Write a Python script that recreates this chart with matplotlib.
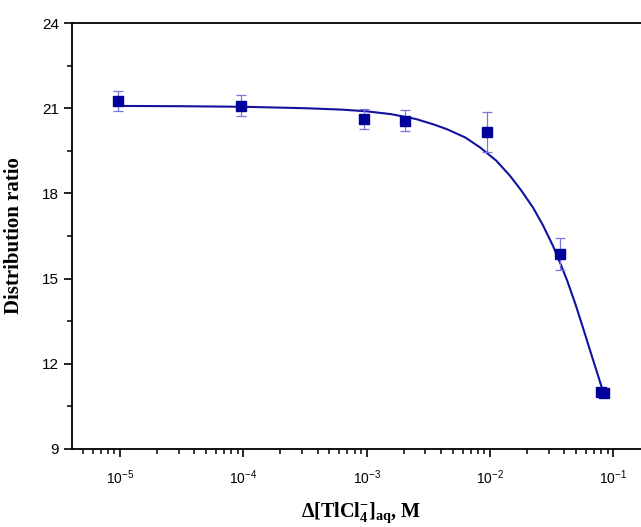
import numpy as np
import matplotlib
matplotlib.use("Agg")
import matplotlib.pyplot as plt
from matplotlib.ticker import LogLocator, MultipleLocator, LogFormatterSciNotation

plt.rcParams['font.family'] = ['Liberation Sans', 'DejaVu Sans']
plt.rcParams['mathtext.fontset'] = 'custom'
plt.rcParams['mathtext.rm'] = 'Liberation Sans'
plt.rcParams['mathtext.bf'] = 'Liberation Serif:bold'
plt.rcParams['axes.unicode_minus'] = False

# measured points
conc = [9.6e-6, 9.6e-5, 9.5e-4, 2.03e-3, 9.5e-3, 0.037, 0.079, 0.084]
ratio = [21.25, 21.08, 20.62, 20.56, 20.17, 15.87, 11.0, 10.98]
ratio_err = [0.35, 0.37, 0.35, 0.36, 0.71, 0.57, 0.05, 0.05]

# fitted curve (log10 of concentration)
fit_logc = [-5.016, -4.5, -4.0, -3.5, -3.2, -3.0, -2.8, -2.6, -2.45, -2.348,
            -2.2, -2.08, -1.95, -1.837, -1.75, -1.65, -1.57, -1.488, -1.43,
            -1.375, -1.31, -1.245, -1.17, -1.091]
fit_ratio = [21.08, 21.07, 21.05, 21.0, 20.95, 20.89, 20.79, 20.62, 20.42, 20.26,
             19.97, 19.62, 19.16, 18.62, 18.13, 17.50, 16.88, 16.15, 15.55,
             14.95, 14.15, 13.27, 12.23, 11.15]

W, H = 641, 527
fig = plt.figure(figsize=(W / 100, H / 100), dpi=100)
ax = fig.add_axes([72 / W, 1 - 449 / H, (700 - 72) / W, (449 - 23) / H])

ax.plot(10 ** np.array(fit_logc), fit_ratio, color='#1212a0', lw=1.5,
        zorder=2, solid_joinstyle='round')
ax.errorbar(conc, ratio, yerr=ratio_err, fmt='none', ecolor='#7878dc',
            elinewidth=0.9, capsize=3.5, capthick=0.9, zorder=3)
ax.plot(conc, ratio, 's', color='#00009a', ms=6.5, zorder=4)

ax.set_xscale('log')
ax.set_xlim(4.08e-6, 0.506)
ax.set_ylim(9, 24)
ax.yaxis.set_major_locator(MultipleLocator(3))
ax.yaxis.set_minor_locator(MultipleLocator(1.5))
ax.xaxis.set_major_locator(LogLocator(base=10, numticks=20))
ax.xaxis.set_minor_locator(LogLocator(base=10, subs=np.arange(2, 10), numticks=20))
ax.xaxis.set_major_formatter(LogFormatterSciNotation())

ax.spines['right'].set_visible(False)
for s in ['left', 'top', 'bottom']:
    ax.spines[s].set_linewidth(1.3)
ax.tick_params(which='major', direction='out', length=6, width=1.2)
ax.tick_params(which='minor', direction='out', length=3.5, width=1.1)
ax.tick_params(axis='y', which='major', labelsize=11)
ax.tick_params(axis='x', which='major', labelsize=10, pad=8)

ax.set_ylabel('Distribution ratio', family='Liberation Serif', weight='bold', fontsize=15)
ax.yaxis.set_label_coords(-(72 - 24) / 628, 0.5)
ax.set_xlabel(r'Δ[TlCl$_\mathbf{4}^\mathbf{-}$]$_\mathbf{aq}$, M',
              family='Liberation Serif', weight='bold', fontsize=14.5)
ax.xaxis.set_label_coords((361 - 72) / (700 - 72), -0.12)

fig.savefig('out.png', dpi=100)
